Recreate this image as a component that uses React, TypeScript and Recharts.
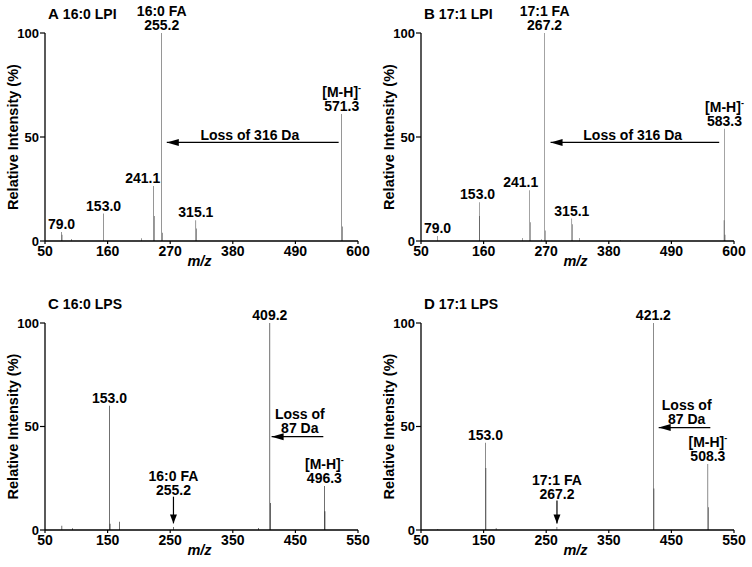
import React from 'react';
import { ComposedChart, Bar, XAxis, YAxis, ReferenceLine, ReferenceDot } from 'recharts';

const FONT = '"Liberation Sans", Arial, Helvetica, sans-serif';

// ---------- Panel A: 16:0 LPI ----------
const aMz = [79.0, 80.0, 97.0, 153.0, 220.0, 241.1, 241.9, 255.2, 256.2, 315.1, 316.1, 571.3, 572.3];
const aIntensity = [4.3, 3.0, 1.0, 13.2, 1.3, 26.5, 12.0, 100, 4.0, 10.0, 6.0, 61.0, 7.0];
const aLabelMz = [79.0, 153.0, 241.1, 255.2, 315.1, 571.3];
const aLabelText = ['79.0', '153.0', '241.1', '16:0 FA|255.2', '315.1', '[M-H]⁻|571.3'];

// ---------- Panel B: 17:1 LPI ----------
const bMz = [79.0, 152.3, 153.0, 228.0, 241.1, 241.9, 262.0, 267.2, 268.2, 315.1, 316.1, 329.0, 400.0, 582.5, 583.3, 584.3];
const bIntensity = [2.4, 12.0, 18.6, 1.5, 24.4, 9.0, 0.8, 100, 5.0, 10.8, 8.0, 1.5, 0.5, 10.0, 54.0, 3.0];
const bLabelMz = [79.0, 153.0, 241.1, 267.2, 315.1, 583.3];
const bLabelText = ['79.0', '153.0', '241.1', '17:1 FA|267.2', '315.1', '[M-H]⁻|583.3'];

// ---------- Panel C: 16:0 LPS ----------
const cMz = [77.0, 94.0, 153.0, 154.0, 169.0, 255.2, 391.0, 409.2, 410.2, 496.3, 497.3];
const cIntensity = [2.0, 0.8, 60.0, 3.0, 4.0, 1.5, 1.0, 100, 13.0, 21.3, 9.0];
const cLabelMz = [153.0, 409.2, 496.3];
const cLabelText = ['153.0', '409.2', '[M-H]⁻|496.3'];

// ---------- Panel D: 17:1 LPS ----------
const dMz = [77.0, 153.0, 153.8, 170.0, 267.2, 421.2, 422.2, 508.3, 509.3];
const dIntensity = [0.5, 42.2, 30.0, 1.0, 1.5, 100, 20.0, 31.9, 11.0];
const dLabelMz = [153.0, 421.2, 508.3];
const dLabelText = ['153.0', '421.2', '[M-H]⁻|508.3'];

const lpiTicks = [50, 160, 270, 380, 490, 600];
const lpsTicks = [50, 150, 250, 350, 450, 550];
const yTicks = [0, 50, 100];

type Arrow = { x1: number; y1: number; x2: number; y2: number };
type Note = { x: number; y: number; text: string };

type PanelProps = {
  left: number;
  top: number;
  height: number;
  xAxisHeight: number;
  domain: [number, number];
  ticks: number[];
  mz: number[];
  intensity: number[];
  labelMz: number[];
  labelText: string[];
  labelDx: Record<string, number>;
  arrows: Arrow[];
  notes: Note[];
};

const Lines = ({ x, y, text }: { x: number; y: number; text: string }) => {
  const lines = text.split('|');
  const n = lines.length;
  return (
    <text textAnchor="middle" fontFamily={FONT} fontSize={14} fontWeight={700} fill="#000">
      {lines.map((ln, i) => {
        const ly = y - (n - 1 - i) * 14;
        if (ln.endsWith('⁻')) {
          return (
            <tspan key={i} x={x} y={ly}>
              {ln.slice(0, -1)}
              <tspan dy={-6} fontSize={9}>-</tspan>
            </tspan>
          );
        }
        return (
          <tspan key={i} x={x} y={ly}>
            {ln}
          </tspan>
        );
      })}
    </text>
  );
};

function Panel(p: PanelProps) {
  const data = p.mz.map((m, i) => ({ mz: m, intensity: p.intensity[i] }));
  const yLabel = (props: any) => {
    const vb = props.viewBox || {};
    const cx = (vb.x ?? 0) + 18;
    const cy = (vb.y ?? 0) + (vb.height ?? 0) / 2;
    return (
      <text
        x={cx}
        y={cy}
        transform={`rotate(-90 ${cx} ${cy})`}
        textAnchor="middle"
        fontFamily={FONT}
        fontSize={14.5}
        fontWeight={700}
        fill="#000"
      >
        Relative Intensity (%)
      </text>
    );
  };
  const xLabel = (props: any) => {
    const vb = props.viewBox || {};
    const cx = (vb.x ?? 0) + (vb.width ?? 0) / 2 - 2;
    const cy = (vb.y ?? 0) + 25;
    return (
      <text
        x={cx}
        y={cy}
        textAnchor="middle"
        fontFamily={FONT}
        fontSize={14.5}
        fontWeight={700}
        fontStyle="italic"
        fill="#000"
      >
        m/z
      </text>
    );
  };
  return (
    <div style={{ position: 'absolute', left: p.left, top: p.top }}>
      <ComposedChart
        width={376}
        height={p.height}
        data={data}
        margin={{ top: 33, right: 18, bottom: 0, left: 0 }}
      >
        <XAxis
          type="number"
          dataKey="mz"
          domain={p.domain}
          ticks={p.ticks}
          interval={0}
          allowDataOverflow
          height={p.xAxisHeight}
          tickSize={3}
          tickMargin={2}
          axisLine={{ stroke: '#000', strokeWidth: 1.3 }}
          tickLine={{ stroke: '#000', strokeWidth: 1.2 }}
          tick={{ fill: '#000', fontSize: 14, fontWeight: 700, fontFamily: FONT }}
          label={xLabel}
        />
        <YAxis
          type="number"
          domain={[0, 100]}
          ticks={yTicks}
          interval={0}
          width={45}
          tickSize={5}
          tickMargin={1}
          axisLine={{ stroke: '#000', strokeWidth: 1.3 }}
          tickLine={{ stroke: '#000', strokeWidth: 1.2 }}
          tick={{ fill: '#000', fontSize: 13, fontWeight: 700, fontFamily: FONT }}
          label={yLabel}
        />
        <Bar dataKey="intensity" barSize={1.5} fill="#000" isAnimationActive={false} />
        {p.labelMz.map((m, i) => {
          const idx = p.mz.indexOf(m);
          const dx = p.labelDx[String(m)] ?? 0;
          return (
            <ReferenceDot
              key={'l' + i}
              x={m}
              y={p.intensity[idx]}
              r={0}
              ifOverflow="visible"
              shape={(s: any) => <Lines x={s.cx + dx} y={s.cy - 3} text={p.labelText[i]} />}
            />
          );
        })}
        {p.arrows.map((a, i) => (
          <ReferenceLine
            key={'a' + i}
            segment={[
              { x: a.x1, y: a.y1 },
              { x: a.x2, y: a.y2 },
            ]}
            stroke="#000"
            strokeWidth={1.2}
            ifOverflow="visible"
          />
        ))}
        {p.arrows.map((a, i) => {
          const horizontal = a.y1 === a.y2;
          return (
            <ReferenceDot
              key={'h' + i}
              x={a.x2}
              y={a.y2}
              r={0}
              ifOverflow="visible"
              shape={(s: any) =>
                horizontal ? (
                  <polygon
                    points={`${s.cx},${s.cy} ${s.cx + 12},${s.cy - 3.5} ${s.cx + 12},${s.cy + 3.5}`}
                    fill="#000"
                  />
                ) : (
                  <polygon
                    points={`${s.cx},${s.cy} ${s.cx - 3.5},${s.cy - 9} ${s.cx + 3.5},${s.cy - 9}`}
                    fill="#000"
                  />
                )
              }
            />
          );
        })}
        {p.notes.map((n, i) => (
          <ReferenceDot
            key={'n' + i}
            x={n.x}
            y={n.y}
            r={0}
            ifOverflow="visible"
            shape={(s: any) => <Lines x={s.cx} y={s.cy} text={n.text} />}
          />
        ))}
      </ComposedChart>
    </div>
  );
}

const titles = [
  { x: 48, y: 18.5, letter: 'A', text: '16:0 LPI' },
  { x: 424, y: 18.5, letter: 'B', text: '17:1 LPI' },
  { x: 48, y: 308.5, letter: 'C', text: '16:0 LPS' },
  { x: 424, y: 308.5, letter: 'D', text: '17:1 LPS' },
];

export default function App() {
  return (
    <div style={{ position: 'absolute', left: 0, top: 0, width: 752, height: 567, background: '#fff' }}>
      <Panel
        left={0}
        top={0}
        height={280}
        xAxisHeight={39}
        domain={[50, 600]}
        ticks={lpiTicks}
        mz={aMz}
        intensity={aIntensity}
        labelMz={aLabelMz}
        labelText={aLabelText}
        labelDx={{ '241.1': -11 }}
        arrows={[{ x1: 566, y1: 47.4, x2: 264, y2: 47.4 }]}
        notes={[{ x: 410, y: 48.7, text: 'Loss of 316 Da' }]}
      />
      <Panel
        left={376}
        top={0}
        height={280}
        xAxisHeight={39}
        domain={[50, 600]}
        ticks={lpiTicks}
        mz={bMz}
        intensity={bIntensity}
        labelMz={bLabelMz}
        labelText={bLabelText}
        labelDx={{ '241.1': -9, '153': -2 }}
        arrows={[{ x1: 574, y1: 47.4, x2: 277.7, y2: 47.4 }]}
        notes={[{ x: 422, y: 48.7, text: 'Loss of 316 Da' }]}
      />
      <Panel
        left={0}
        top={290}
        height={277}
        xAxisHeight={37}
        domain={[50, 550]}
        ticks={lpsTicks}
        mz={cMz}
        intensity={cIntensity}
        labelMz={cLabelMz}
        labelText={cLabelText}
        labelDx={{}}
        arrows={[
          { x1: 494.6, y1: 45.1, x2: 412, y2: 45.1 },
          { x1: 255.2, y1: 16.1, x2: 255.2, y2: 3.2 },
        ]}
        notes={[
          { x: 457, y: 47, text: 'Loss of|87 Da' },
          { x: 255.2, y: 16.9, text: '16:0 FA|255.2' },
        ]}
      />
      <Panel
        left={376}
        top={290}
        height={277}
        xAxisHeight={37}
        domain={[50, 550]}
        ticks={lpsTicks}
        mz={dMz}
        intensity={dIntensity}
        labelMz={dLabelMz}
        labelText={dLabelText}
        labelDx={{}}
        arrows={[
          { x1: 512.2, y1: 49.5, x2: 429.7, y2: 49.5 },
          { x1: 267.2, y1: 14.3, x2: 267.2, y2: 3.2 },
        ]}
        notes={[
          { x: 474.4, y: 51.4, text: 'Loss of|87 Da' },
          { x: 267.2, y: 14.8, text: '17:1 FA|267.2' },
        ]}
      />
      <svg
        width={752}
        height={567}
        style={{ position: 'absolute', left: 0, top: 0, pointerEvents: 'none' }}
      >
        {titles.map((t) => (
          <text key={t.letter} x={t.x} y={t.y} fontFamily={FONT} fontWeight={700} fill="#000">
            <tspan fontSize={15}>{t.letter}</tspan>
            <tspan fontSize={14} dx={4}>
              {t.text}
            </tspan>
          </text>
        ))}
      </svg>
    </div>
  );
}
